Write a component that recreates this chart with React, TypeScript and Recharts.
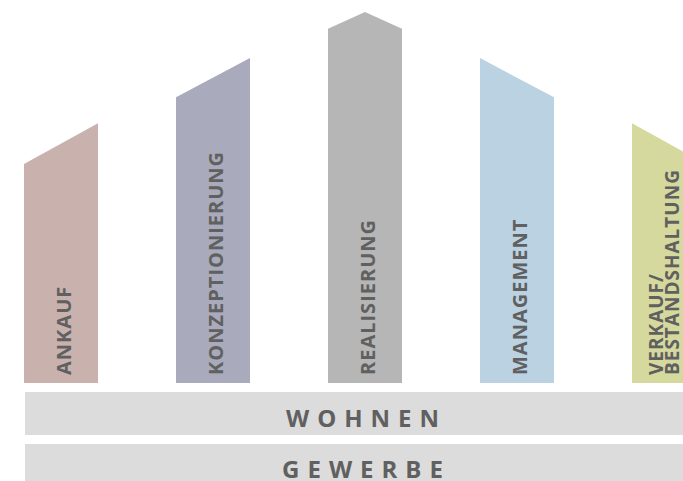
import React from "react"
import { BarChart, Bar, XAxis, YAxis, Cell } from "recharts"

const phases = ["ANKAUF", "KONZEPTIONIERUNG", "REALISIERUNG", "MANAGEMENT", "VERKAUF/\nBESTANDSHALTUNG"]
const leftHeight = [59, 77, 95.5, 87.6, 70]
const rightHeight = [70, 87.6, 95.5, 77, 59]
const peakHeight: (number | null)[] = [null, null, 100, null, null]
const phaseColors = ["#c9b2ae", "#a9aabb", "#b6b6b6", "#bad2e2", "#d6d99e"]
const sectors = ["WOHNEN", "GEWERBE"]

const data = phases.map((name, i) => ({
  name,
  left: leftHeight[i],
  right: rightHeight[i],
  peak: peakHeight[i],
  top: Math.max(leftHeight[i], rightHeight[i], peakHeight[i] ?? 0),
}))

const FONT = "'Open Sans', sans-serif"
const TEXT = "#606060"

function PhaseShape(props: any) {
  const { x, y, width, height, fill } = props
  const p = props.payload ?? props
  const bottom = y + height
  const unit = height / p.top
  const ly = bottom - p.left * unit
  const ry = bottom - p.right * unit
  const pts =
    p.peak != null
      ? `${x},${bottom} ${x},${ly} ${x + width / 2},${bottom - p.peak * unit} ${x + width},${ry} ${x + width},${bottom}`
      : `${x},${bottom} ${x},${ly} ${x + width},${ry} ${x + width},${bottom}`
  const lines = String(p.name).split("\n")
  const lineH = 16
  // baseline of the first line; glyphs sit to the left of it once rotated
  const bx = lines.length > 1 ? x + width / 2 - 6 : x + width / 2 + 9.5
  return (
    <g>
      <polygon points={pts} fill={fill} />
      <g transform={`translate(${bx},${bottom - 8}) rotate(-90)`}>
        <text x={0} y={0} fill={TEXT} fontFamily={FONT} fontWeight={700} fontSize={lines.length > 1 ? 19 : 20} letterSpacing={1}>
          {lines.map((l, k) => (
            <tspan key={k} x={0} dy={k === 0 ? 0 : lineH}>
              {l}
            </tspan>
          ))}
        </text>
      </g>
    </g>
  )
}

export default function App() {
  return (
    <div style={{ position: "absolute", left: 0, top: 0, width: 683, height: 481, overflow: "hidden", background: "#fff" }}>
      <div style={{ position: "absolute", left: -15, top: 0 }}>
        <BarChart width={760} height={481} data={data} margin={{ top: 12, right: 0, bottom: 98, left: 0 }}>
          <XAxis dataKey="name" hide />
          <YAxis hide domain={[0, 100]} />
          <Bar dataKey="top" barSize={74} shape={<PhaseShape />} isAnimationActive={false}>
            {data.map((d, i) => (
              <Cell key={d.name} fill={phaseColors[i]} />
            ))}
          </Bar>
        </BarChart>
      </div>
      <svg width={683} height={481} style={{ position: "absolute", left: 0, top: 0, pointerEvents: "none" }}>
        {sectors.map((s, i) => (
          <g key={s}>
            <rect x={25} y={392 + i * 52} width={675} height={43} fill="#dcdcdc" />
            <text
              x={362.5 + 4}
              y={427 + i * 51}
              textAnchor="middle"
              fill={TEXT}
              fontFamily={FONT}
              fontWeight={700}
              fontSize={24}
              letterSpacing={8}
            >
              {s}
            </text>
          </g>
        ))}
      </svg>
    </div>
  )
}
